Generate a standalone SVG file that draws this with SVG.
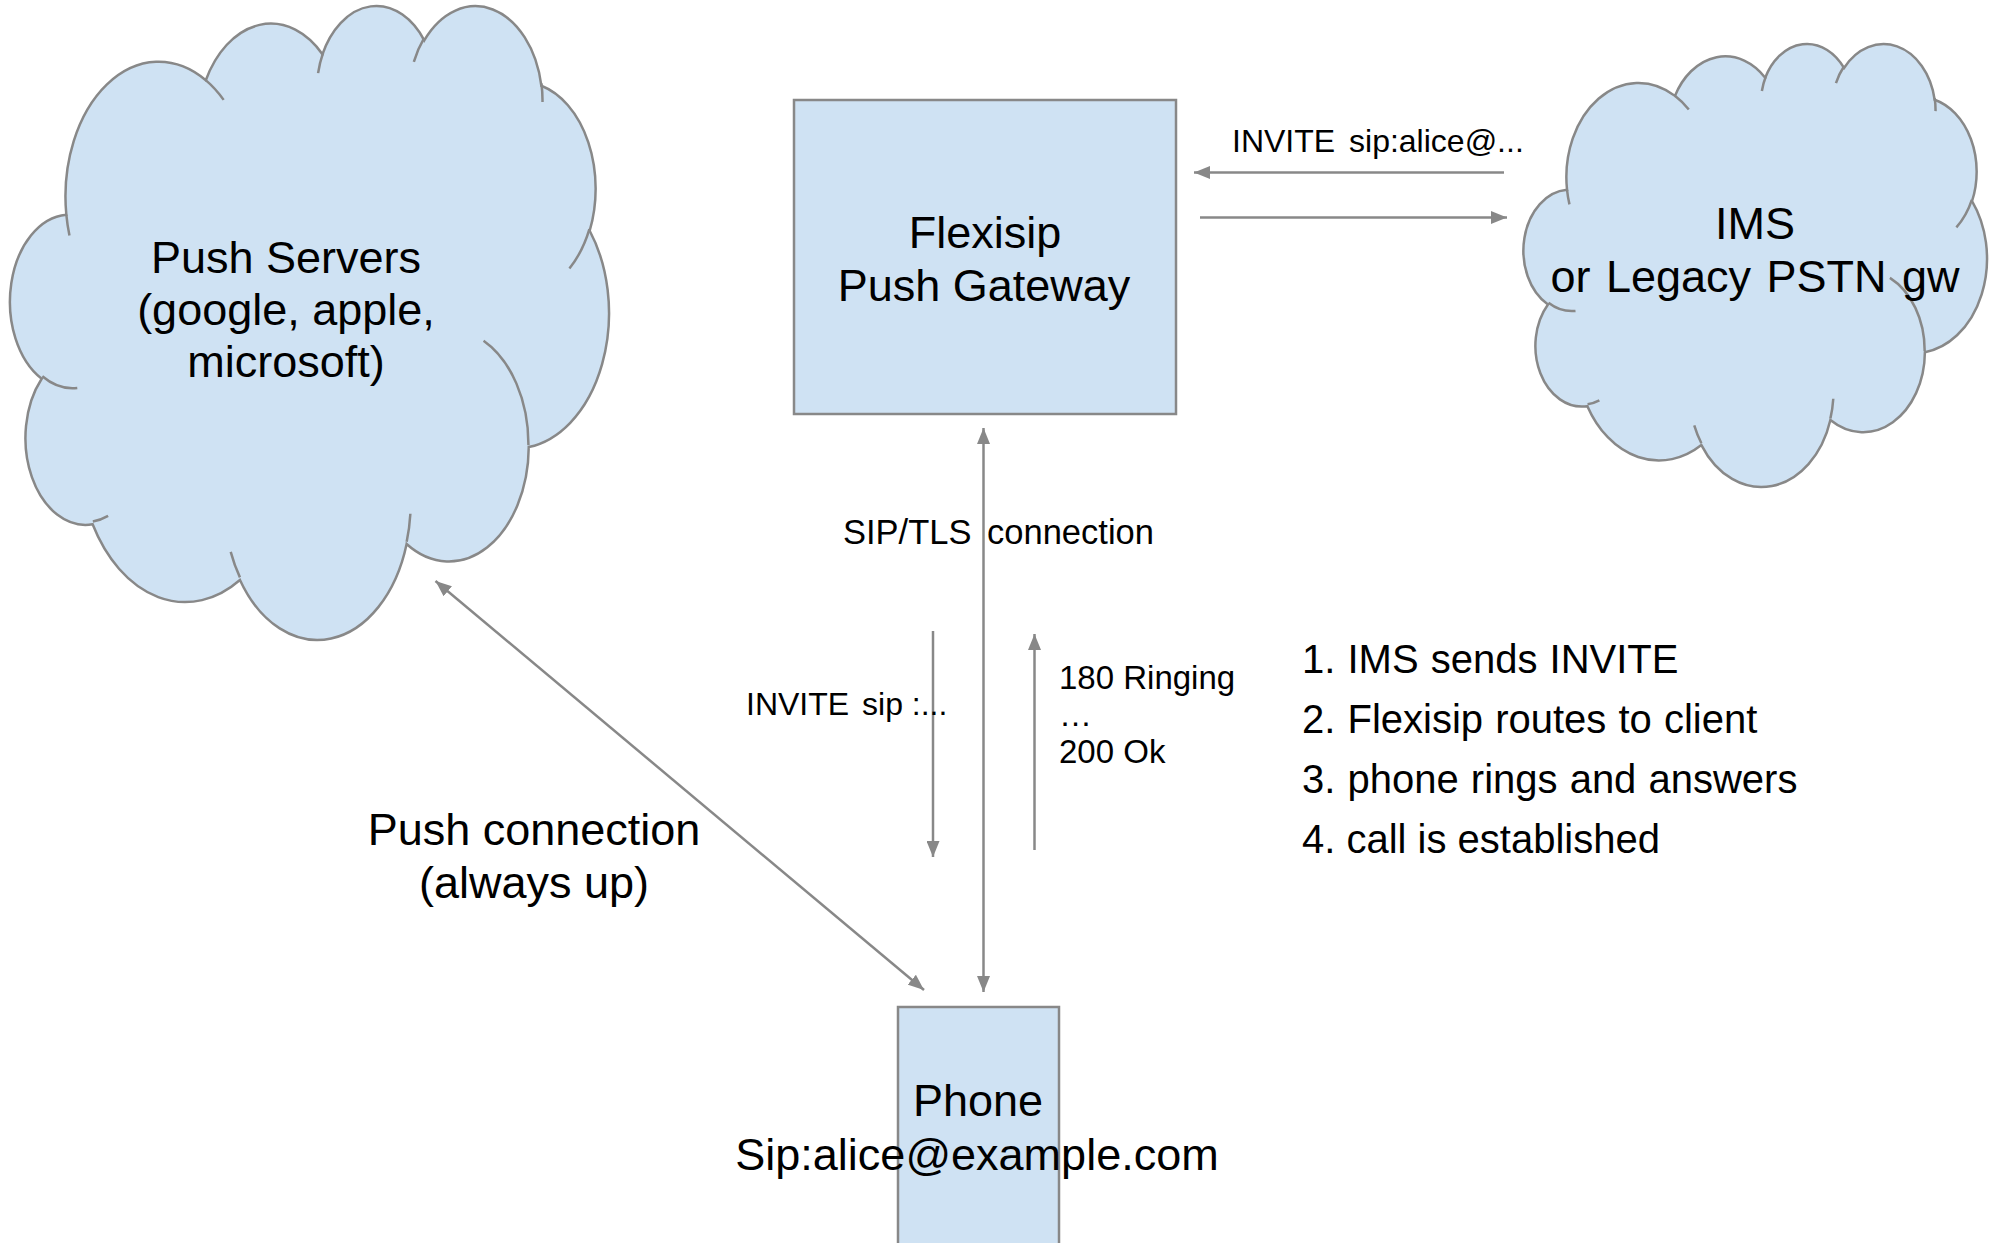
<svg xmlns="http://www.w3.org/2000/svg" xmlns:xlink="http://www.w3.org/1999/xlink" width="1991" height="1243" viewBox="0 0 1991 1243">
  <style>
    .shape { fill: #cfe2f3; stroke: #888888; stroke-width: 2.5; }
    .cloud { fill: #cfe2f3; stroke: #888888; stroke-width: 2.5; }
    .cloudline { fill: none; stroke: #888888; stroke-width: 2.5; }
    .conn { fill: none; stroke: #888888; stroke-width: 2.5; }
    text { font-family: "Liberation Sans", Arial, sans-serif; fill: #000000; }
    .big { font-size: 45px; text-anchor: middle; }
    .list { font-size: 40px; }
    .small { font-size: 32px; }
    .resp { font-size: 33px; }
    .mid { font-size: 34.5px; }
  </style>
  <defs>
    <marker id="arrow" viewBox="0 0 16 13" refX="16" refY="6.5" markerWidth="16" markerHeight="13" markerUnits="userSpaceOnUse" orient="auto-start-reverse">
      <path d="M0,0 L16,6.5 L0,13 Z" fill="#888888"/>
    </marker>
    <path id="cloudOuter" vector-effect="non-scaling-stroke" d="M 3900 14370 A 6753 9190 0 0 1 14005 5202 A 5333 7267 0 0 1 22456 3433 A 4365 5945 0 0 1 29834 2482 A 4857 6595 0 0 1 38318 5578 A 5333 7273 0 0 1 41819 15462 A 6775 9220 0 0 1 37404 30204 A 5785 7867 0 0 1 28555 36814 A 6752 9215 0 0 1 16480 39266 A 7720 10543 0 0 1 5805 35472 A 4360 5918 0 0 1 2114 25550 A 4345 5945 0 0 1 3900 14370 Z"/>
    <path id="cloudInner" vector-effect="non-scaling-stroke" d="M 4693 26177 A 4345 5945 0 0 1 2160 25380 M 6928 34899 A 4360 5918 0 0 1 5820 35281 M 16478 39090 A 6752 9215 0 0 1 15810 37348 M 28827 34751 A 6752 9215 0 0 1 28560 36660 M 34129 22954 A 5785 7867 0 0 1 37381 30090 M 41798 15354 A 5333 7273 0 0 1 40350 18030 M 38324 5426 A 4857 6595 0 0 1 38401 6690 M 29078 3952 A 4857 6595 0 0 1 29821 2338 M 22141 4720 A 4365 5945 0 0 1 22500 3331 M 14000 5192 A 6753 9190 0 0 1 15300 6541 M 4127 15789 A 6753 9190 0 0 1 3900 14370"/>
  </defs>

  <rect width="1991" height="1243" fill="#ffffff"/>

  <g id="push-servers">
    <g transform="translate(12.5,3.93) scale(0.013802,0.014670)">
      <use xlink:href="#cloudOuter" class="cloud"/>
      <use xlink:href="#cloudInner" class="cloudline"/>
    </g>
    <text class="big" x="286" y="273">Push Servers</text>
    <text class="big" x="286" y="325">(google, apple,</text>
    <text class="big" x="286" y="377">microsoft)</text>
  </g>

  <g id="ims">
    <g transform="translate(1525.38,42.55) scale(0.010681,0.010251)">
      <use xlink:href="#cloudOuter" class="cloud"/>
      <use xlink:href="#cloudInner" class="cloudline"/>
    </g>
    <text class="big" x="1755" y="239">IMS</text>
    <text class="big" x="1755" y="292" word-spacing="3">or Legacy PSTN gw</text>
  </g>

  <g id="flexisip">
    <rect class="shape" x="794" y="100" width="382" height="314"/>
    <text class="big" x="985" y="248">Flexisip</text>
    <text class="big" x="984" y="301">Push Gateway</text>
  </g>

  <g id="phone">
    <rect class="shape" x="898" y="1007" width="161" height="260"/>
    <text class="big" x="978" y="1116">Phone</text>
    <text class="big" x="977" y="1170">Sip:alice@example.com</text>
  </g>

  <g id="connectors">
    <line class="conn" x1="1504" y1="172.5" x2="1194" y2="172.5" marker-end="url(#arrow)"/>
    <line class="conn" x1="1200" y1="217.5" x2="1507" y2="217.5" marker-end="url(#arrow)"/>
    <line class="conn" x1="983.5" y1="428" x2="983.5" y2="992" marker-start="url(#arrow)" marker-end="url(#arrow)"/>
    <line class="conn" x1="933" y1="631" x2="933" y2="857" marker-end="url(#arrow)"/>
    <line class="conn" x1="1034.5" y1="850" x2="1034.5" y2="634" marker-end="url(#arrow)"/>
    <line class="conn" x1="435.5" y1="581" x2="924" y2="990" marker-start="url(#arrow)" marker-end="url(#arrow)"/>
  </g>

  <g id="labels">
    <text class="small" x="1232" y="152" word-spacing="5">INVITE sip:alice@...</text>
    <text class="mid" x="843" y="544" word-spacing="6">SIP/TLS connection</text>
    <text class="small" x="746" y="715">INVITE <tspan dx="4">sip :...</tspan></text>
    <text class="resp" x="1059" y="689">180 Ringing</text>
    <text class="resp" x="1059" y="726">…</text>
    <text class="resp" x="1059" y="763">200 Ok</text>
    <text class="big" x="534" y="845">Push connection</text>
    <text class="big" x="534" y="898">(always up)</text>
    <text class="list" x="1302" y="673" word-spacing="1">1. IMS sends INVITE</text>
    <text class="list" x="1302" y="733" word-spacing="1">2. Flexisip routes to client</text>
    <text class="list" x="1302" y="793" word-spacing="1">3. phone rings and answers</text>
    <text class="list" x="1302" y="853">4. call is established</text>
  </g>
</svg>
